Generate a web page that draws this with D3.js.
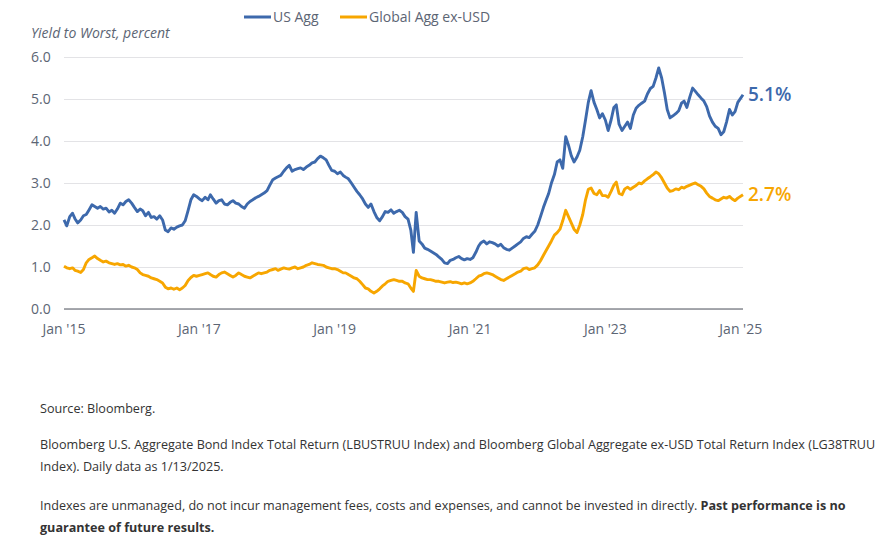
<!DOCTYPE html>
<html>
<head>
<meta charset="utf-8">
<script src="https://cdn.jsdelivr.net/npm/d3@7"></script>
<style>
  html, body { margin: 0; padding: 0; background: #fff; }
  svg { display: block; }
</style>
</head>
<body>
<svg id="chart" width="893" height="549"></svg>
<script>
// Semi-monthly readings (1st and 16th of each month), Jan 2015 .. Jan 2025
const usAgg = [
  // 2015
  2.12, 1.98, 2.20, 2.28, 2.15, 2.05, 2.12, 2.22, 2.25, 2.36, 2.48, 2.44, 2.40, 2.44, 2.38, 2.40, 2.31, 2.35, 2.28, 2.38, 2.52, 2.48, 2.56, 2.60,
  // 2016
  2.52, 2.42, 2.32, 2.38, 2.34, 2.22, 2.30, 2.18, 2.20, 2.14, 2.22, 2.12, 1.88, 1.84, 1.93, 1.90, 1.95, 1.98, 2.00, 2.10, 2.35, 2.60, 2.72, 2.68,
  // 2017
  2.62, 2.58, 2.66, 2.60, 2.72, 2.62, 2.52, 2.58, 2.60, 2.50, 2.48, 2.54, 2.58, 2.52, 2.50, 2.44, 2.40, 2.50, 2.56, 2.60, 2.65, 2.68, 2.72, 2.76,
  // 2018
  2.82, 2.95, 3.08, 3.12, 3.15, 3.18, 3.28, 3.36, 3.42, 3.28, 3.32, 3.34, 3.36, 3.32, 3.38, 3.42, 3.48, 3.50, 3.58, 3.64, 3.60, 3.55, 3.42, 3.30,
  // 2019
  3.28, 3.22, 3.26, 3.18, 3.14, 3.10, 3.00, 2.90, 2.80, 2.72, 2.62, 2.50, 2.42, 2.50, 2.32, 2.18, 2.10, 2.20, 2.32, 2.30, 2.36, 2.28, 2.32, 2.35,
  // 2020
  2.30, 2.20, 2.14, 1.88, 1.35, 2.30, 1.62, 1.55, 1.45, 1.42, 1.38, 1.34, 1.30, 1.24, 1.18, 1.10, 1.08, 1.16, 1.18, 1.22, 1.25, 1.20, 1.17, 1.20,
  // 2021
  1.18, 1.22, 1.35, 1.50, 1.58, 1.62, 1.55, 1.60, 1.58, 1.55, 1.50, 1.54, 1.46, 1.42, 1.40, 1.45, 1.50, 1.55, 1.60, 1.68, 1.72, 1.70, 1.78, 1.85,
  // 2022
  2.00, 2.20, 2.42, 2.60, 2.75, 3.00, 3.20, 3.50, 3.55, 3.35, 4.10, 3.90, 3.65, 3.50, 3.62, 3.78, 4.10, 4.50, 4.92, 5.20, 4.92, 4.75, 4.55, 4.65,
  // 2023
  4.50, 4.25, 4.50, 4.80, 4.86, 4.40, 4.25, 4.35, 4.45, 4.30, 4.62, 4.78, 4.85, 4.90, 4.95, 5.12, 5.25, 5.30, 5.50, 5.74, 5.50, 5.15, 4.75, 4.55,
  // 2024
  4.60, 4.65, 4.72, 4.90, 4.95, 4.80, 5.05, 5.26, 5.18, 5.10, 5.02, 4.95, 4.82, 4.60, 4.45, 4.35, 4.30, 4.15, 4.22, 4.45, 4.75, 4.62, 4.70, 4.92,
  // Jan 2025
  5.10
];

const globalAggExUsd = [
  // 2015
  1.02, 0.98, 0.96, 0.98, 0.92, 0.90, 0.87, 0.94, 1.10, 1.18, 1.22, 1.26, 1.20, 1.16, 1.12, 1.14, 1.10, 1.08, 1.06, 1.08, 1.05, 1.06, 1.02, 1.04,
  // 2016
  1.00, 0.98, 0.94, 0.86, 0.82, 0.80, 0.78, 0.74, 0.72, 0.70, 0.66, 0.62, 0.52, 0.48, 0.50, 0.47, 0.50, 0.46, 0.50, 0.56, 0.68, 0.75, 0.80, 0.78,
  // 2017
  0.80, 0.82, 0.84, 0.86, 0.82, 0.78, 0.76, 0.82, 0.86, 0.88, 0.84, 0.80, 0.76, 0.80, 0.86, 0.82, 0.78, 0.76, 0.74, 0.78, 0.82, 0.86, 0.84, 0.86,
  // 2018
  0.88, 0.92, 0.94, 0.96, 0.92, 0.95, 0.98, 0.96, 0.95, 0.98, 1.00, 0.96, 0.98, 1.00, 1.04, 1.06, 1.10, 1.08, 1.06, 1.05, 1.04, 1.00, 0.98, 0.96,
  // 2019
  0.96, 0.94, 0.90, 0.86, 0.86, 0.82, 0.78, 0.74, 0.72, 0.66, 0.58, 0.50, 0.48, 0.42, 0.38, 0.42, 0.48, 0.55, 0.60, 0.66, 0.68, 0.70, 0.68, 0.66,
  // 2020
  0.66, 0.62, 0.60, 0.50, 0.42, 0.92, 0.78, 0.74, 0.72, 0.70, 0.70, 0.68, 0.66, 0.66, 0.64, 0.62, 0.64, 0.65, 0.63, 0.64, 0.62, 0.60, 0.62, 0.60,
  // 2021
  0.62, 0.66, 0.72, 0.78, 0.80, 0.84, 0.86, 0.84, 0.82, 0.78, 0.74, 0.70, 0.68, 0.72, 0.76, 0.80, 0.84, 0.88, 0.90, 0.96, 0.98, 0.94, 0.96, 0.98,
  // 2022
  1.05, 1.15, 1.28, 1.40, 1.50, 1.62, 1.76, 1.82, 1.90, 2.10, 2.35, 2.20, 2.05, 1.90, 1.82, 2.00, 2.25, 2.60, 2.85, 2.88, 2.75, 2.72, 2.82, 2.70,
  // 2023
  2.70, 2.66, 2.80, 2.95, 3.02, 2.75, 2.72, 2.86, 2.90, 2.85, 2.90, 2.94, 3.00, 2.98, 3.05, 3.10, 3.15, 3.20, 3.26, 3.22, 3.12, 3.00, 2.88, 2.80,
  // 2024
  2.82, 2.86, 2.84, 2.90, 2.88, 2.92, 2.95, 2.98, 3.00, 2.96, 2.92, 2.86, 2.76, 2.68, 2.64, 2.60, 2.58, 2.62, 2.66, 2.64, 2.68, 2.62, 2.58, 2.64,
  // Jan 2025
  2.72
];

const yTicks = [0, 1, 2, 3, 4, 5, 6];
const xTickYears = [2015, 2017, 2019, 2021, 2023, 2025];
const seriesNames = ["US Agg", "Global Agg ex-USD"];
const endLabels = ["5.1%", "2.7%"];

// 1st / 16th of each month, last point is the 1/13/2025 print
const dates = usAgg.map((_, i) => i === usAgg.length - 1
  ? new Date(2025, 0, 13)
  : new Date(2015, Math.floor(i / 2), i % 2 ? 16 : 1));

const colors = { us: "#3d69ac", global: "#f7a600" };
const axisText = "#5c6574";

const svg = d3.select("#chart");

const margin = { top: 57, right: 150, bottom: 240, left: 64 };
const width = 893 - margin.left - margin.right;   // 679
const height = 549 - margin.top - margin.bottom;  // 252

const x = d3.scaleTime()
    .domain([new Date(2015, 0, 1), new Date(2025, 0, 13)])
    .range([0, width]);

const y = d3.scaleLinear()
    .domain([0, 6])
    .range([height, 0]);

const g = svg.append("g")
    .attr("transform", `translate(${margin.left},${margin.top})`);

// Horizontal grid
g.append("g")
    .call(d3.axisLeft(y).tickValues(yTicks).tickSize(-width).tickFormat(""))
    .call(s => s.select(".domain").remove())
    .selectAll("line")
    .attr("stroke", "#e3e3e6")
    .attr("stroke-width", 1.2);

// Y labels
g.append("g")
    .selectAll("text")
    .data(yTicks)
    .join("text")
    .attr("x", -33)
    .attr("y", d => y(d))
    .attr("dy", "0.35em")
    .attr("fill", axisText)
    .style("font", "14px 'Open Sans', sans-serif")
    .text(d => d.toFixed(1));

// Baseline
g.append("line")
    .attr("x1", 0)
    .attr("x2", width)
    .attr("y1", y(0))
    .attr("y2", y(0))
    .attr("stroke", "#8a8d93")
    .attr("stroke-width", 1.5);

// X labels
g.append("g")
    .selectAll("text")
    .data(xTickYears)
    .join("text")
    .attr("x", d => x(new Date(d, 0, 1)))
    .attr("y", height + 25)
    .attr("text-anchor", "middle")
    .attr("fill", axisText)
    .style("font", "14px 'Open Sans', sans-serif")
    .text(d => "Jan '" + String(d).slice(2));

// Lines
const line = d3.line()
    .x((d, i) => x(dates[i]))
    .y(d => y(d));

g.append("path")
    .datum(globalAggExUsd)
    .attr("fill", "none")
    .attr("stroke", colors.global)
    .attr("stroke-width", 2.9)
    .attr("stroke-linejoin", "round")
    .attr("d", line);

g.append("path")
    .datum(usAgg)
    .attr("fill", "none")
    .attr("stroke", colors.us)
    .attr("stroke-width", 2.9)
    .attr("stroke-linejoin", "round")
    .attr("d", line);

// End labels
const lastIdx = usAgg.length - 1;
[[usAgg, colors.us, endLabels[0]], [globalAggExUsd, colors.global, endLabels[1]]]
  .forEach(([vals, c, label]) => {
    g.append("text")
        .attr("x", width + 5)
        .attr("y", y(vals[lastIdx]))
        .attr("dy", "0.35em")
        .attr("fill", c)
        .style("font", "600 19px 'Open Sans', sans-serif")
        .text(label);
  });

// Axis title
svg.append("text")
    .attr("x", 31)
    .attr("y", 38)
    .attr("fill", axisText)
    .style("font", "italic 14px 'Open Sans', sans-serif")
    .text("Yield to Worst, percent");

// Legend
const legend = svg.append("g").attr("transform", "translate(244,17)");
const legendX = [0, 96];
seriesNames.forEach((name, i) => {
    const item = legend.append("g").attr("transform", `translate(${legendX[i]},0)`);
    item.append("line")
        .attr("x1", 0).attr("x2", 27)
        .attr("stroke", i === 0 ? colors.us : colors.global)
        .attr("stroke-width", 3);
    item.append("text")
        .attr("x", 29)
        .attr("dy", "0.35em")
        .attr("fill", axisText)
        .style("font", "14px 'Open Sans', sans-serif")
        .text(name);
});

// Footnotes
const notes = svg.append("g")
    .attr("fill", "#333")
    .style("font", "12.6px 'Open Sans', sans-serif");

notes.append("text").attr("x", 40).attr("y", 413).text("Source: Bloomberg.");
notes.append("text").attr("x", 40).attr("y", 449)
    .text("Bloomberg U.S. Aggregate Bond Index Total Return (LBUSTRUU Index) and Bloomberg Global Aggregate ex-USD Total Return Index (LG38TRUU");
notes.append("text").attr("x", 40).attr("y", 471)
    .text("Index). Daily data as 1/13/2025.");
const l3 = notes.append("text").attr("x", 40).attr("y", 510);
l3.append("tspan").text("Indexes are unmanaged, do not incur management fees, costs and expenses, and cannot be invested in directly. ");
l3.append("tspan").attr("font-weight", 700).text("Past performance is no");
notes.append("text").attr("x", 40).attr("y", 532)
    .attr("font-weight", 700)
    .text("guarantee of future results.");
</script>
</body>
</html>
